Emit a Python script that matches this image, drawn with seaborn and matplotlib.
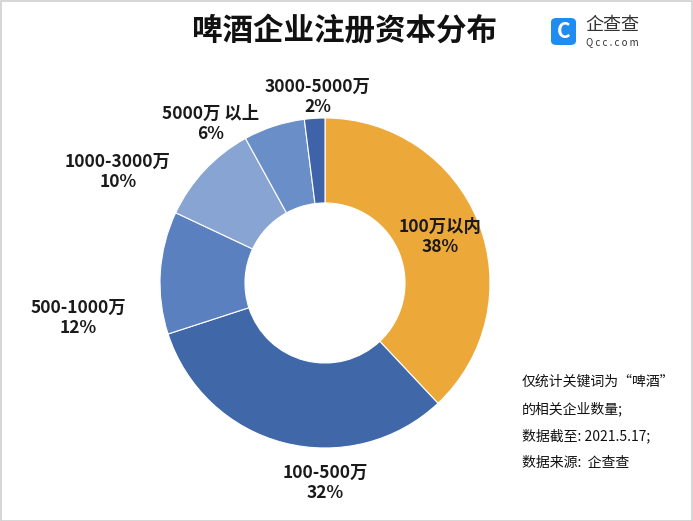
import matplotlib
matplotlib.use("Agg")
import matplotlib.pyplot as plt
from matplotlib.patches import FancyBboxPatch, Rectangle
import seaborn as sns

sns.set_style("white")
plt.rcParams['font.family'] = ['Noto Sans CJK SC', 'DejaVu Sans']

categories = ["100万以内", "100-500万", "500-1000万", "1000-3000万", "5000万以上", "3000-5000万"]
values = [38, 32, 12, 10, 6, 2]
label_names = ["100万以内", "100-500万", "500-1000万", "1000-3000万", "5000万 以上", "3000-5000万"]
colors = ["#EDA83A", "#4068A8", "#5A80C0", "#88A4D3", "#6A8EC7", "#3F63A9"]
title = "啤酒企业注册资本分布"
note_lines = ["仅统计关键词为“啤酒”", "的相关企业数量;", "数据截至: 2021.5.17;", "数据来源:  企查查"]

W, H = 693, 521
fig = plt.figure(figsize=(W / 100, H / 100), dpi=100)
fig.patch.set_facecolor("white")

def px(x, y):
    return x / W, 1 - y / H

# border
fig.add_artist(Rectangle((0.5 / W, 0.5 / H), 1 - 1.5 / W, 1 - 1.5 / H, transform=fig.transFigure,
                         fill=False, edgecolor="#cfcfcf", linewidth=1.2))

# pie axes: center (325,283), radius 165
cx, cy, r = 325, 283, 165
ax = fig.add_axes([(cx - r) / W, 1 - (cy + r) / H, 2 * r / W, 2 * r / H])
wedges, _ = ax.pie(values, colors=colors, startangle=90, counterclock=False,
                   radius=1.0, wedgeprops=dict(width=0.515, edgecolor="white", linewidth=0.8))
ax.set_xlim(-1, 1)
ax.set_ylim(-1, 1)
ax.set_aspect("equal")
ax.axis("off")

# labels (pixel positions)
label_pos = [(440, 237), (325, 483), (78, 318), (118, 172), (211, 124), (318, 97)]
for name, v, (x, y) in zip(label_names, values, label_pos):
    fx, fy = px(x, y)
    fig.text(fx, fy, f"{name}\n{v}%", ha="center", va="center", fontsize=12.5,
             fontweight="bold", color="#1a1a1a", linespacing=1.1)

# title
tx, ty = px(344, 31)
fig.text(tx, ty, title, ha="center", va="center", fontsize=22, fontweight="bold", color="#111111")

# logo
lx, ly = px(551, 45)
fig.add_artist(FancyBboxPatch((lx, ly), 25 / W, 27 / H, boxstyle="round,pad=0,rounding_size=0.008",
                              transform=fig.transFigure, facecolor="#1E8CF0", edgecolor="none"))
qx, qy = px(563.5, 31.5)
fig.text(qx, qy, "C", ha="center", va="center", fontsize=15, fontweight="bold", color="white")
kx, ky = px(585, 25)
fig.text(kx, ky, "企查查", ha="left", va="center", fontsize=13, color="#333333")
kx2, ky2 = px(586, 42)
fig.text(kx2, ky2, "Q c c . c o m", ha="left", va="center", fontsize=7, color="#333333")

# notes
for i, line in enumerate(note_lines):
    nx, ny = px(522, 382 + i * 27)
    fig.text(nx, ny, line, ha="left", va="center", fontsize=10, fontweight="medium", color="#111111")

fig.savefig("out.png", dpi=100)
